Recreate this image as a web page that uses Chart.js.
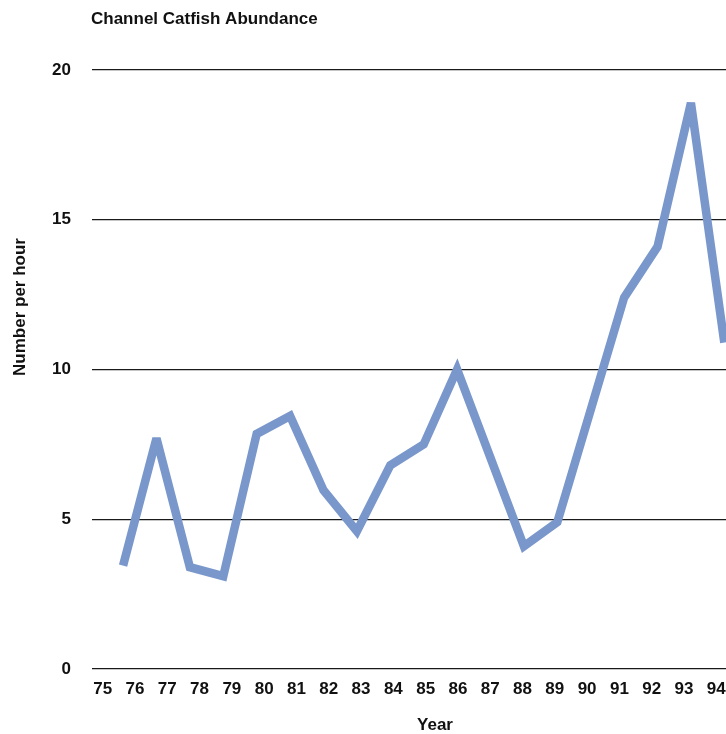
<!DOCTYPE html>
<html>
<head>
<meta charset="utf-8">
<title>Channel Catfish Abundance</title>
<script src="https://cdn.jsdelivr.net/npm/chart.js@4/dist/chart.umd.min.js"></script>
<style>
  html, body { margin: 0; padding: 0; background: #ffffff; }
  #wrap { width: 726px; height: 734px; position: relative; }
</style>
</head>
<body>
<div id="wrap"><canvas id="chart" width="726" height="734"></canvas></div>
<script>
// Survey years (two-digit) and catches per hour of electrofishing
const yearLabels = ['75', '76', '77', '78', '79', '80', '81', '82', '83', '84',
                    '85', '86', '87', '88', '89', '90', '91', '92', '93', '94'];
const catfishPerHour = [null, 3.45, 7.7, 3.4, 3.1, 7.85, 8.45, 5.97, 4.6, 6.8,
                        7.5, 10.0, null, 4.1, 4.9, null, 12.4, 14.1, 18.9, 10.9];
const yTickValues = [0, 5, 10, 15, 20];

const chartTitle = 'Channel Catfish Abundance';
const xTitle = 'Year';
const yTitle = 'Number per hour';

const FONT = '"Liberation Sans", Arial, Helvetica, sans-serif';
const LINE_COLOR = 'rgb(122, 151, 204)';

const points = yearLabels.map((lbl, i) => ({ x: Number(lbl), y: catfishPerHour[i] }));

// Title and axis captions
const captions = {
  id: 'captions',
  afterDraw(chart) {
    const ctx = chart.ctx;
    ctx.save();
    ctx.fillStyle = '#111';
    ctx.font = 'bold 17px ' + FONT;
    ctx.textBaseline = 'alphabetic';
    ctx.textAlign = 'left';
    ctx.fillText(chartTitle, chart.chartArea.left - 1, 24);
    ctx.textAlign = 'center';
    ctx.fillText(xTitle, 435, 730);
    ctx.translate(25, 307);
    ctx.rotate(-Math.PI / 2);
    ctx.fillText(yTitle, 0, 0);
    ctx.restore();
  }
};

// Sharp vertices are bevelled rather than drawn as long spikes
const joinLimit = {
  id: 'joinLimit',
  beforeDatasetsDraw(chart) { chart.ctx.save(); chart.ctx.miterLimit = 3; },
  afterDatasetsDraw(chart) { chart.ctx.restore(); }
};

new Chart(document.getElementById('chart'), {
  type: 'line',
  data: {
    datasets: [{
      data: points,
      xAxisID: 'x',
      yAxisID: 'y',
      borderColor: LINE_COLOR,
      borderWidth: 8.5,
      borderCapStyle: 'butt',
      borderJoinStyle: 'miter',
      pointRadius: 0,
      pointHoverRadius: 0,
      tension: 0,
      fill: false,
      spanGaps: true
    }]
  },
  options: {
    responsive: false,
    animation: false,
    events: [],
    layout: { padding: { top: 70, left: 0, right: 0, bottom: 0 } },
    plugins: {
      legend: { display: false },
      title: { display: false },
      tooltip: { enabled: false }
    },
    scales: {
      x: {
        type: 'linear',
        display: false,
        min: 75.07,
        max: 94.05
      },
      years: {
        type: 'linear',
        position: 'bottom',
        min: 74.67,
        max: 94.3,
        afterBuildTicks(scale) {
          scale.ticks = yearLabels.map(l => ({ value: Number(l) }));
        },
        afterFit(scale) {
          scale.height = 65;
          scale.paddingLeft = 0;
          scale.paddingRight = 0;
        },
        grid: { display: false, drawTicks: false },
        border: { display: false },
        ticks: {
          autoSkip: false,
          maxRotation: 0,
          padding: 10,
          color: '#111',
          font: { family: FONT, size: 17, weight: 'bold' },
          callback: (v) => String(v)
        }
      },
      y: {
        type: 'linear',
        position: 'left',
        min: 0,
        max: 20,
        afterBuildTicks(scale) {
          scale.ticks = yTickValues.map(v => ({ value: v }));
        },
        afterFit(scale) { scale.width = 92; },
        grid: { color: '#1a1a1a', lineWidth: 1.3, drawTicks: false },
        border: { display: false },
        ticks: {
          padding: 21,
          color: '#111',
          font: { family: FONT, size: 17, weight: 'bold' }
        }
      }
    }
  },
  plugins: [captions, joinLimit]
});
</script>
</body>
</html>
